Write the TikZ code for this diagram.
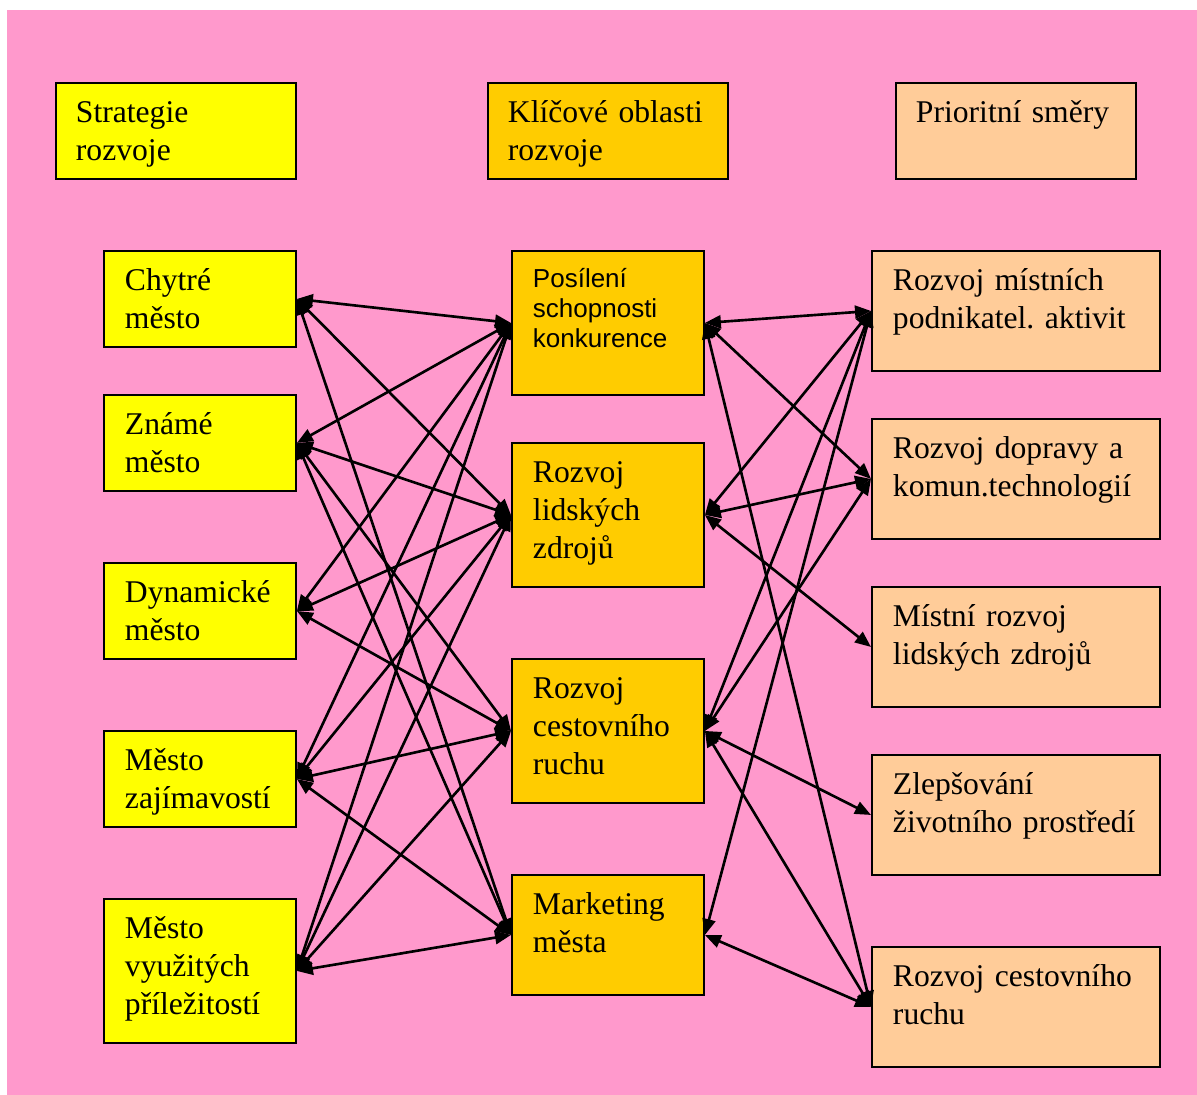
\documentclass[tikz,border=0pt]{standalone}
\usepackage{fontspec}
\setmainfont{Liberation Serif}
\newfontfamily\arialfont{Liberation Sans}
\definecolor{bgpink}{RGB}{255,153,204}
\definecolor{stratyellow}{RGB}{255,255,0}
\definecolor{areaorange}{RGB}{255,204,0}
\definecolor{prioapricot}{RGB}{255,204,153}
\usetikzlibrary{arrows.meta}
\frenchspacing

\begin{document}
\begin{tikzpicture}[x=0.02cm, y=-0.02cm,
  box/.style={draw=black, line width=1.1pt, anchor=north west, inner xsep=0.42cm, inner ysep=0pt,
              align=left, font=\fontsize{18}{21.6}\selectfont, text height=0.8cm},
  head/.style={box, inner xsep=0.4cm, text width=4cm, text depth=1.12cm},
  strat/.style={box, fill=stratyellow, text width=3cm, text depth=1.12cm},
  area/.style={box, fill=areaorange, text width=3cm, text depth=2.08cm},
  prio/.style={box, fill=prioapricot, text width=4.92cm, text depth=1.6cm},
  link/.style={{Triangle[length=0.32cm,width=0.26cm]}-{Triangle[length=0.32cm,width=0.26cm]},
               line width=1.5pt}]

% Page and background
\useasboundingbox (0,0) rectangle (1197,1095);
\fill[bgpink] (7,10) rectangle (1197,1095);

% Column headers
\node[head, fill=stratyellow] (hstrat) at (55,82) {Strategie\\rozvoje};
\node[head, fill=areaorange] (hoblast) at (487,82) {Klíčové oblasti\\rozvoje};
\node[head, fill=prioapricot] (hsmer) at (895,82) {Prioritní směry};

% Strategies (left, yellow)
\node[strat] (chytre) at (103,250) {Chytré\\město};
\node[strat] (zname) at (103,394) {Známé\\město};
\node[strat] (dynam) at (103,562) {Dynamické\\město};
\node[strat] (zajim) at (103,730) {Město\\zajímavostí};
\node[strat, text depth=2.08cm] (prilez) at (103,898) {Město\\využitých\\příležitostí};

% Key areas (middle, orange)
\node[area, font=\arialfont\fontsize{14.8}{17}\selectfont, text height=0.74cm, text depth=2.14cm]
     (konk) at (511,250) {Posílení\\schopnosti\\konkurence};
\node[area] (lidske) at (511,442) {Rozvoj\\lidských\\zdrojů};
\node[area] (cestov) at (511,658) {Rozvoj\\cestovního\\ruchu};
\node[area, text depth=1.6cm] (market) at (511,874) {Marketing\\města};

% Priority directions (right, apricot)
\node[prio] (podnik) at (871,250) {Rozvoj místních\\podnikatel. aktivit};
\node[prio] (doprava) at (871,418) {Rozvoj dopravy a\\komun.technologií};
\node[prio] (mistni) at (871,586) {Místní rozvoj\\lidských zdrojů};
\node[prio] (prostr) at (871,754) {Zlepšování\\životního prostředí};
\node[prio] (ruch) at (871,946) {Rozvoj cestovního\\ruchu};

% Strategies <-> key areas
\draw[link] (chytre.east) -- (konk.west);
\draw[link] (chytre.east) -- (lidske.west);
\draw[link] (chytre.east) -- (market.west);
\draw[link] (zname.east) -- (konk.west);
\draw[link] (zname.east) -- (lidske.west);
\draw[link] (zname.east) -- (cestov.west);
\draw[link] (zname.east) -- (market.west);
\draw[link] (dynam.east) -- (konk.west);
\draw[link] (dynam.east) -- (lidske.west);
\draw[link] (dynam.east) -- (cestov.west);
\draw[link] (zajim.east) -- (konk.west);
\draw[link] (zajim.east) -- (lidske.west);
\draw[link] (zajim.east) -- (cestov.west);
\draw[link] (zajim.east) -- (market.west);
\draw[link] (prilez.east) -- (konk.west);
\draw[link] (prilez.east) -- (lidske.west);
\draw[link] (prilez.east) -- (cestov.west);
\draw[link] (prilez.east) -- (market.west);

% Key areas <-> priority directions
\draw[link] (konk.east) -- (podnik.west);
\draw[link] (konk.east) -- (doprava.west);
\draw[link] (konk.east) -- (ruch.west);
\draw[link] (lidske.east) -- (podnik.west);
\draw[link] (lidske.east) -- (doprava.west);
\draw[link] (lidske.east) -- (mistni.west);
\draw[link] (cestov.east) -- (podnik.west);
\draw[link] (cestov.east) -- (doprava.west);
\draw[link] (cestov.east) -- (prostr.west);
\draw[link] (cestov.east) -- (ruch.west);
\draw[link] (market.east) -- (podnik.west);
\draw[link] (market.east) -- (ruch.west);

\end{tikzpicture}
\end{document}
